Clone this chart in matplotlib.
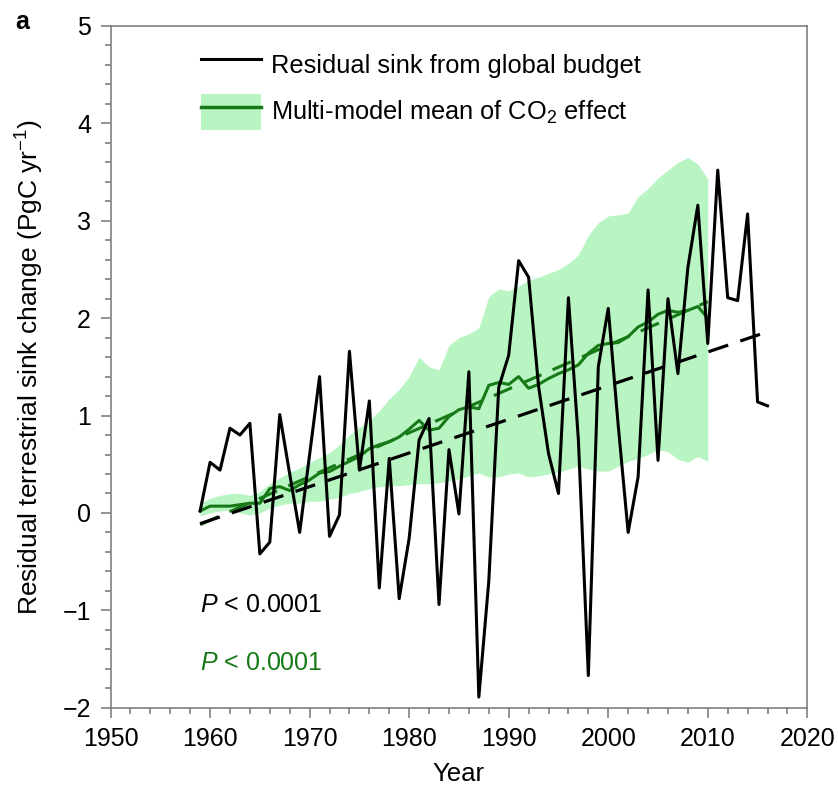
import numpy as np
import matplotlib
matplotlib.use("Agg")
import matplotlib.pyplot as plt
from matplotlib.lines import Line2D
from matplotlib.patches import Patch

plt.rcParams['font.family'] = ['Liberation Sans', 'DejaVu Sans']
plt.rcParams['mathtext.fontset'] = 'custom'
plt.rcParams['mathtext.rm'] = 'Liberation Sans'
plt.rcParams['mathtext.it'] = 'Liberation Sans:italic'

# residual sink from global budget, 1959-2016
resid_years = np.arange(1959, 2017)
resid_sink = [0.02, 0.52, 0.44, 0.87, 0.80, 0.92, -0.42, -0.30, 1.01, 0.40,
              -0.20, 0.60, 1.40, -0.24, -0.02, 1.66, 0.44, 1.15, -0.77, 0.56,
              -0.88, -0.26, 0.75, 0.97, -0.94, 0.65, -0.01, 1.45, -1.89, -0.70,
              1.29, 1.62, 2.59, 2.42, 1.30, 0.61, 0.20, 2.21, 0.75, -1.67,
              1.50, 2.10, 0.90, -0.20, 0.37, 2.29, 0.54, 2.20, 1.43, 2.52,
              3.16, 1.74, 3.52, 2.21, 2.18, 3.07, 1.14, 1.10]

# multi-model CO2 effect, 1959-2010
model_years = np.arange(1959, 2011)
model_mean = [0.02, 0.07, 0.07, 0.07, 0.085, 0.10, 0.10, 0.25, 0.27, 0.23,
              0.29, 0.34, 0.41, 0.425, 0.48, 0.53, 0.58, 0.66, 0.70, 0.73,
              0.78, 0.86, 0.95, 0.85, 0.87, 0.99, 1.06, 1.09, 1.07, 1.31,
              1.34, 1.32, 1.40, 1.28, 1.32, 1.38, 1.43, 1.47, 1.52, 1.64,
              1.72, 1.74, 1.75, 1.81, 1.91, 1.96, 2.04, 2.08, 2.06, 2.08,
              2.12, 2.00]
model_upper = [0.10, 0.15, 0.18, 0.20, 0.20, 0.18, 0.22, 0.30, 0.36, 0.42,
               0.46, 0.52, 0.57, 0.62, 0.70, 0.80, 0.88, 0.95, 1.05, 1.17,
               1.27, 1.40, 1.60, 1.50, 1.47, 1.72, 1.80, 1.84, 1.90, 2.22,
               2.30, 2.28, 2.33, 2.39, 2.42, 2.46, 2.50, 2.56, 2.65, 2.85,
               2.98, 3.05, 3.06, 3.08, 3.25, 3.33, 3.44, 3.52, 3.60, 3.65,
               3.58, 3.43]
model_lower = [-0.03, 0.00, 0.02, 0.03, 0.00, -0.02, 0.00, 0.05, 0.08, 0.10,
               0.10, 0.12, 0.12, 0.14, 0.16, 0.20, 0.22, 0.25, 0.27, 0.28,
               0.28, 0.29, 0.30, 0.30, 0.31, 0.33, 0.35, 0.38, 0.41, 0.37,
               0.37, 0.40, 0.41, 0.37, 0.38, 0.40, 0.42, 0.45, 0.48, 0.45,
               0.43, 0.43, 0.48, 0.53, 0.56, 0.60, 0.65, 0.63, 0.55, 0.52,
               0.58, 0.53]

# linear trends (end points)
resid_trend_x = [1959, 2016]
resid_trend_y = [-0.11, 1.86]
model_trend_x = [1959, 2010]
model_trend_y = [-0.12, 2.17]

green = '#177a17'
fill_green = '#b9f5c3'
spine_grey = '#808080'

fig = plt.figure(figsize=(8.38, 7.87), dpi=100)
ax = fig.add_axes([0.1319, 0.1007, 0.8315, 0.8663])

ax.fill_between(model_years, model_lower, model_upper, color=fill_green, lw=0, zorder=1)
ax.plot(model_trend_x, model_trend_y, color=green, lw=2.2, ls=(0, (6.5, 4)), zorder=2)
ax.plot(model_years, model_mean, color=green, lw=2.2, zorder=3)
ax.plot(resid_trend_x, resid_trend_y, color='black', lw=2.3, ls=(0, (6.5, 4)), zorder=4)
ax.plot(resid_years, resid_sink, color='black', lw=2.2, zorder=5)

ax.set_xlim(1950, 2020)
ax.set_ylim(-2, 5)
ax.set_xticks(np.arange(1950, 2021, 10))
ax.set_xticks(np.arange(1950, 2021, 2), minor=True)
ax.set_yticks(np.arange(-2, 6, 1))
ax.set_yticks(np.arange(-2, 5.01, 0.2), minor=True)
ax.set_yticklabels(['\u22122', '\u22121', '0', '1', '2', '3', '4', '5'])

for s in ax.spines.values():
    s.set_color(spine_grey)
    s.set_linewidth(1.2)
ax.tick_params(which='both', direction='out', color=spine_grey, width=1.2,
               top=False, right=False, labelsize=18)
ax.tick_params(which='major', length=7, pad=7)
ax.tick_params(which='minor', length=4)

ax.set_xlabel('Year', fontsize=18.5, labelpad=8)
ax.set_ylabel('Residual terrestrial sink change (PgC yr$^{\u22121}$)', fontsize=19, labelpad=12)

handles = [Line2D([], [], color='black', lw=2.2),
           (Patch(facecolor=fill_green, edgecolor='none'), Line2D([], [], color=green, lw=2.5))]
labels = ['Residual sink from global budget', 'Multi-model mean of CO$_2$ effect']
ax.legend(handles, labels, loc='upper left', bbox_to_anchor=(0.115, 0.985), frameon=False,
          fontsize=18.3, handlelength=2.35, handleheight=1.8, handletextpad=0.4,
          labelspacing=0.45, borderaxespad=0)

ax.text(0.129, 0.14, '$P$ < 0.0001', transform=ax.transAxes, fontsize=18, color='black')
ax.text(0.129, 0.056, '$P$ < 0.0001', transform=ax.transAxes, fontsize=18, color=green)

fig.text(0.018, 0.972, 'a', fontsize=18, fontweight='bold', va='center')

fig.savefig('out.png', dpi=100)
